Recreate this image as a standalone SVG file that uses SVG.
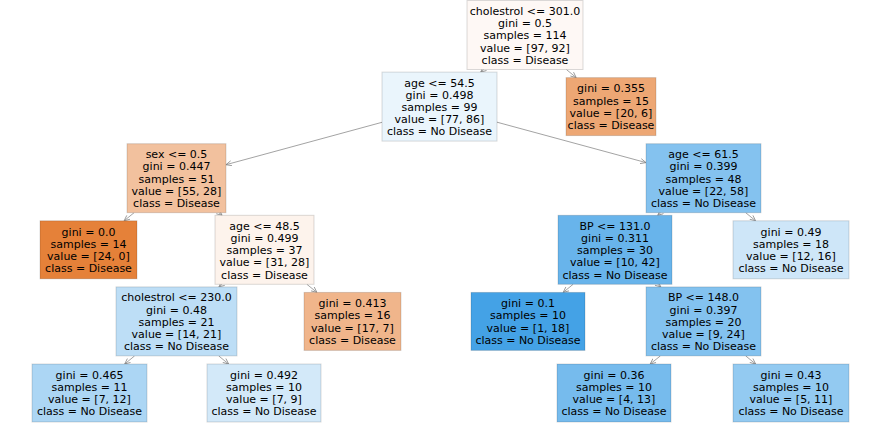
<svg xmlns="http://www.w3.org/2000/svg" width="880" height="430" viewBox="0 0 880 430">
<style>
  .box { stroke: #000; stroke-opacity: 0.14; stroke-width: 1; }
  .t { font-family: "DejaVu Sans", "Liberation Sans", sans-serif; font-size: 11px; fill: #000; text-anchor: middle; }
  .e { stroke: #8c8c8c; stroke-width: 0.8; fill: none; marker-end: url(#ah); }
</style>
<defs>
  <marker id="ah" markerWidth="8" markerHeight="8" refX="6" refY="3" orient="auto" markerUnits="userSpaceOnUse">
    <path d="M0.5,0.5 L6,3 L0.5,5.5" fill="none" stroke="#8c8c8c" stroke-width="0.8"/>
  </marker>
</defs>
<rect width="880" height="430" fill="#ffffff"/>
<g id="connectors">
  <line class="e" x1="483.8" y1="69.5" x2="480.7" y2="72.1"/>
  <line class="e" x1="566.4" y1="69.5" x2="576.2" y2="77.6"/>
  <line class="e" x1="382" y1="122.3" x2="226" y2="164.7"/>
  <line class="e" x1="497" y1="122.2" x2="646" y2="162.6"/>
  <line class="e" x1="134.1" y1="212.7" x2="124.1" y2="220.8"/>
  <line class="e" x1="218.9" y1="212.7" x2="222.1" y2="215.3"/>
  <line class="e" x1="660.8" y1="212.7" x2="657.7" y2="215.3"/>
  <line class="e" x1="745.7" y1="212.7" x2="755.6" y2="220.8"/>
  <line class="e" x1="222.1" y1="284.3" x2="218.9" y2="286.9"/>
  <line class="e" x1="306.9" y1="284.3" x2="316.9" y2="292.4"/>
  <line class="e" x1="573.1" y1="284.3" x2="563.2" y2="292.4"/>
  <line class="e" x1="657.7" y1="284.3" x2="660.8" y2="286.9"/>
  <line class="e" x1="134.6" y1="355.9" x2="124.7" y2="364"/>
  <line class="e" x1="218.7" y1="355.9" x2="228.6" y2="364"/>
  <line class="e" x1="660.4" y1="355.9" x2="650.2" y2="364"/>
  <line class="e" x1="745.7" y1="355.9" x2="755.6" y2="364"/>
</g>
<g id="n0">
  <rect class="box" x="467" y="0.5" width="116" height="69" fill="#fef8f5"/>
  <text class="t" x="525" y="15">cholestrol &lt;= 301.0<tspan x="525" dy="12.2">gini = 0.5</tspan><tspan x="525" dy="12.2">samples = 114</tspan><tspan x="525" dy="12.2">value = [97, 92]</tspan><tspan x="525" dy="12.2">class = Disease</tspan></text>
</g>
<g id="n1">
  <rect class="box" x="382" y="72.1" width="115" height="69" fill="#eaf5fc"/>
  <text class="t" x="439.5" y="86.6">age &lt;= 54.5<tspan x="439.5" dy="12.2">gini = 0.498</tspan><tspan x="439.5" dy="12.2">samples = 99</tspan><tspan x="439.5" dy="12.2">value = [77, 86]</tspan><tspan x="439.5" dy="12.2">class = No Disease</tspan></text>
</g>
<g id="n2">
  <rect class="box" x="566" y="77.6" width="90" height="58" fill="#eda774"/>
  <text class="t" x="611" y="92.4">gini = 0.355<tspan x="611" dy="12.2">samples = 15</tspan><tspan x="611" dy="12.2">value = [20, 6]</tspan><tspan x="611" dy="12.2">class = Disease</tspan></text>
</g>
<g id="n3">
  <rect class="box" x="127" y="143.7" width="99" height="69" fill="#f2c19e"/>
  <text class="t" x="176.5" y="158.2">sex &lt;= 0.5<tspan x="176.5" dy="12.2">gini = 0.447</tspan><tspan x="176.5" dy="12.2">samples = 51</tspan><tspan x="176.5" dy="12.2">value = [55, 28]</tspan><tspan x="176.5" dy="12.2">class = Disease</tspan></text>
</g>
<g id="n4">
  <rect class="box" x="646" y="143.7" width="115" height="69" fill="#84c2ef"/>
  <text class="t" x="703.5" y="158.2">age &lt;= 61.5<tspan x="703.5" dy="12.2">gini = 0.399</tspan><tspan x="703.5" dy="12.2">samples = 48</tspan><tspan x="703.5" dy="12.2">value = [22, 58]</tspan><tspan x="703.5" dy="12.2">class = No Disease</tspan></text>
</g>
<g id="n5">
  <rect class="box" x="40" y="220.8" width="97" height="58" fill="#e58139"/>
  <text class="t" x="88.5" y="235.6">gini = 0.0<tspan x="88.5" dy="12.2">samples = 14</tspan><tspan x="88.5" dy="12.2">value = [24, 0]</tspan><tspan x="88.5" dy="12.2">class = Disease</tspan></text>
</g>
<g id="n6">
  <rect class="box" x="215" y="215.3" width="99" height="69" fill="#fdf3ec"/>
  <text class="t" x="264.5" y="229.8">age &lt;= 48.5<tspan x="264.5" dy="12.2">gini = 0.499</tspan><tspan x="264.5" dy="12.2">samples = 37</tspan><tspan x="264.5" dy="12.2">value = [31, 28]</tspan><tspan x="264.5" dy="12.2">class = Disease</tspan></text>
</g>
<g id="n7">
  <rect class="box" x="558" y="215.3" width="114" height="69" fill="#68b4eb"/>
  <text class="t" x="615" y="229.8">BP &lt;= 131.0<tspan x="615" dy="12.2">gini = 0.311</tspan><tspan x="615" dy="12.2">samples = 30</tspan><tspan x="615" dy="12.2">value = [10, 42]</tspan><tspan x="615" dy="12.2">class = No Disease</tspan></text>
</g>
<g id="n8">
  <rect class="box" x="733" y="220.8" width="116" height="58" fill="#cee6f8"/>
  <text class="t" x="791" y="235.6">gini = 0.49<tspan x="791" dy="12.2">samples = 18</tspan><tspan x="791" dy="12.2">value = [12, 16]</tspan><tspan x="791" dy="12.2">class = No Disease</tspan></text>
</g>
<g id="n9">
  <rect class="box" x="116" y="286.9" width="121" height="69" fill="#bddef6"/>
  <text class="t" x="176.5" y="301.4">cholestrol &lt;= 230.0<tspan x="176.5" dy="12.2">gini = 0.48</tspan><tspan x="176.5" dy="12.2">samples = 21</tspan><tspan x="176.5" dy="12.2">value = [14, 21]</tspan><tspan x="176.5" dy="12.2">class = No Disease</tspan></text>
</g>
<g id="n10">
  <rect class="box" x="304" y="292.4" width="97" height="58" fill="#f0b58b"/>
  <text class="t" x="352.5" y="307.2">gini = 0.413<tspan x="352.5" dy="12.2">samples = 16</tspan><tspan x="352.5" dy="12.2">value = [17, 7]</tspan><tspan x="352.5" dy="12.2">class = Disease</tspan></text>
</g>
<g id="n11">
  <rect class="box" x="471" y="292.4" width="114" height="58" fill="#44a2e6"/>
  <text class="t" x="528" y="307.2">gini = 0.1<tspan x="528" dy="12.2">samples = 10</tspan><tspan x="528" dy="12.2">value = [1, 18]</tspan><tspan x="528" dy="12.2">class = No Disease</tspan></text>
</g>
<g id="n12">
  <rect class="box" x="646" y="286.9" width="115" height="69" fill="#83c2ef"/>
  <text class="t" x="703.5" y="301.4">BP &lt;= 148.0<tspan x="703.5" dy="12.2">gini = 0.397</tspan><tspan x="703.5" dy="12.2">samples = 20</tspan><tspan x="703.5" dy="12.2">value = [9, 24]</tspan><tspan x="703.5" dy="12.2">class = No Disease</tspan></text>
</g>
<g id="n13">
  <rect class="box" x="32" y="364" width="115" height="58" fill="#acd6f4"/>
  <text class="t" x="89.5" y="378.8">gini = 0.465<tspan x="89.5" dy="12.2">samples = 11</tspan><tspan x="89.5" dy="12.2">value = [7, 12]</tspan><tspan x="89.5" dy="12.2">class = No Disease</tspan></text>
</g>
<g id="n14">
  <rect class="box" x="207" y="364" width="114" height="58" fill="#d3e9f9"/>
  <text class="t" x="264" y="378.8">gini = 0.492<tspan x="264" dy="12.2">samples = 10</tspan><tspan x="264" dy="12.2">value = [7, 9]</tspan><tspan x="264" dy="12.2">class = No Disease</tspan></text>
</g>
<g id="n15">
  <rect class="box" x="557" y="364" width="114" height="58" fill="#76bbed"/>
  <text class="t" x="614" y="378.8">gini = 0.36<tspan x="614" dy="12.2">samples = 10</tspan><tspan x="614" dy="12.2">value = [4, 13]</tspan><tspan x="614" dy="12.2">class = No Disease</tspan></text>
</g>
<g id="n16">
  <rect class="box" x="733" y="364" width="116" height="58" fill="#93caf1"/>
  <text class="t" x="791" y="378.8">gini = 0.43<tspan x="791" dy="12.2">samples = 10</tspan><tspan x="791" dy="12.2">value = [5, 11]</tspan><tspan x="791" dy="12.2">class = No Disease</tspan></text>
</g>
</svg>
